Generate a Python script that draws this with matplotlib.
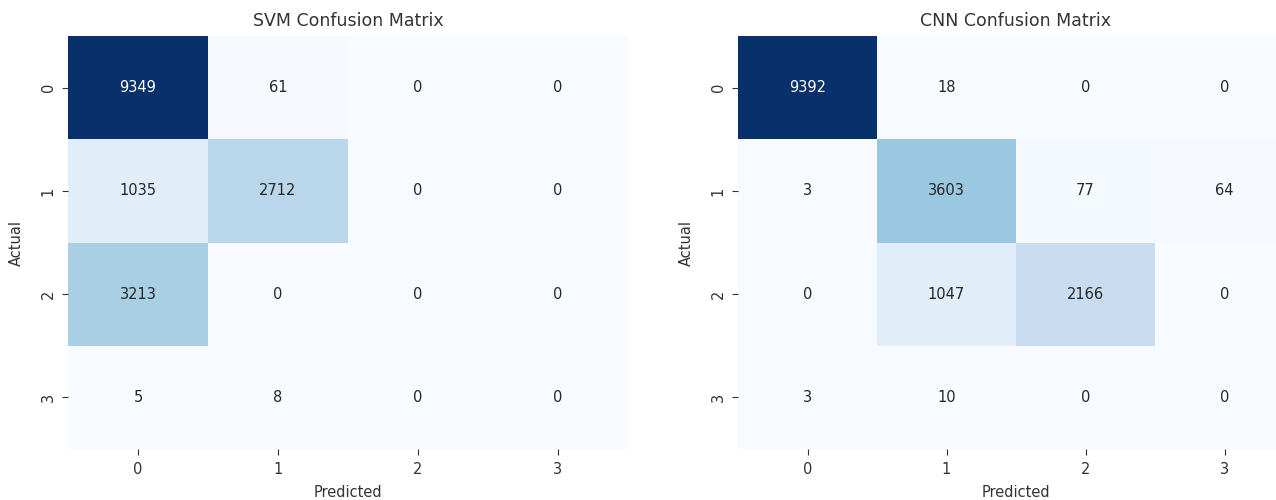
import numpy as np
import matplotlib
matplotlib.use("Agg")
import matplotlib.pyplot as plt
import seaborn as sns

plt.rcParams["font.family"] = ["DejaVu Sans"]

labels = ["0", "1", "2", "3"]

svm_cm = np.array([
    [9349, 61, 0, 0],
    [1035, 2712, 0, 0],
    [3213, 0, 0, 0],
    [5, 8, 0, 0],
])

cnn_cm = np.array([
    [9392, 18, 0, 0],
    [3, 3603, 77, 64],
    [0, 1047, 2166, 0],
    [3, 10, 0, 0],
])

titles = ["SVM Confusion Matrix", "CNN Confusion Matrix"]

W, H = 1276, 500
fig = plt.figure(figsize=(W / 100, H / 100), dpi=100)

# axes placed in pixel units; the second panel runs past the right edge
ax1 = fig.add_axes([68 / W, 51 / H, 560 / W, 413 / H])
ax2 = fig.add_axes([738 / W, 51 / H, 556 / W, 413 / H])

text_color = "#333333"
for ax, cm, title in zip([ax1, ax2], [svm_cm, cnn_cm], titles):
    sns.heatmap(cm, annot=True, fmt="d", cmap="Blues", cbar=False, ax=ax,
                xticklabels=labels, yticklabels=labels,
                annot_kws={"fontsize": 10.5})
    ax.set_title(title, fontsize=12.5, color=text_color, pad=7)
    ax.set_xlabel("Predicted", fontsize=10.5, color=text_color, labelpad=6)
    ax.set_ylabel("Actual", fontsize=10.5, color=text_color, labelpad=12)
    ax.tick_params(labelsize=10.5, colors=text_color, length=4, pad=5)
    for lbl in ax.get_yticklabels():
        lbl.set_rotation(90)
        lbl.set_va("center")

fig.savefig("out.png", dpi=100)
